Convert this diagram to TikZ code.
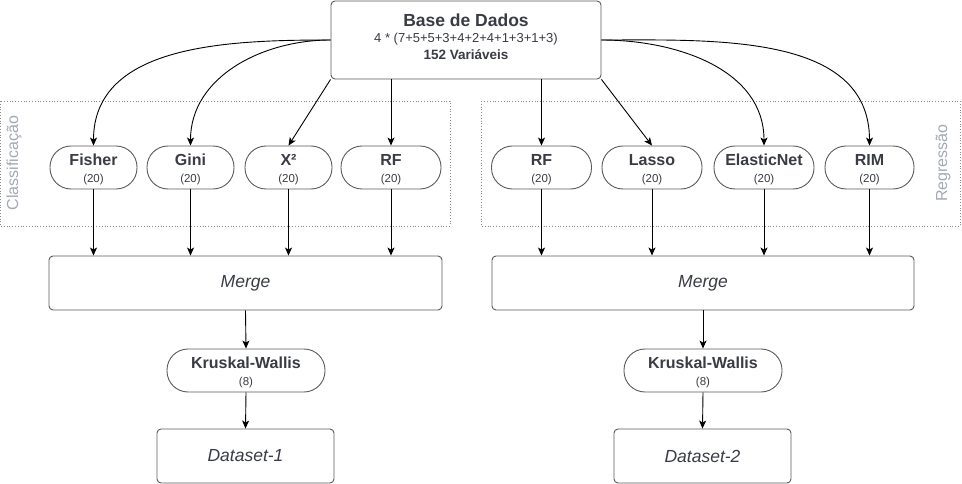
\documentclass[tikz,border=0pt]{standalone}
\usepackage{fontspec}
\setmainfont{Liberation Sans}
\usetikzlibrary{arrows.meta}
\definecolor{txt}{HTML}{393C44}
\definecolor{bord}{HTML}{5A5A5A}
\definecolor{lbl}{HTML}{A3A8B3}
\definecolor{dots}{HTML}{8A8A8A}
\newcommand{\mttl}[1]{{\bfseries\fontsize{16}{18}\selectfont\rule{0pt}{14.5pt}#1}}
\newcommand{\msub}[1]{{\fontsize{11.5}{13}\selectfont #1}}
\begin{document}
\begin{tikzpicture}[x=1pt,y=-1pt,
  box/.style={draw=bord,line width=0.9pt,rounded corners=4pt,fill=white,text=txt,inner sep=0pt,align=center},
  pill/.style={draw=bord,line width=0.9pt,rounded corners=21pt,fill=white,text=txt,inner sep=0pt,align=center,minimum height=43pt},
  grp/.style={draw=dots,line width=0.8pt,dotted},
  grplbl/.style={text=lbl,font=\fontsize{16}{18}\selectfont,rotate=90},
  arr/.style={draw=black,line width=0.9pt,-{Stealth[length=8pt,width=7pt,inset=2pt]}},
  itl/.style={font=\itshape\fontsize{17.5}{20}\selectfont}
]
\useasboundingbox (0,0) rectangle (962,484);

% groups
\draw[grp] (0,101) rectangle (450,226);
\draw[grp] (481,101) rectangle (960,226);
\node[grplbl] (lclass) at (14,163) {Classificação};
\node[grplbl] (lreg) at (943,163) {Regressão};

% base
\node[box,minimum width=270pt,minimum height=78pt] (base) at (466,40) {};
\node[text=txt,font=\bfseries\fontsize{17.5}{20}\selectfont] (bt1) at (466,20) {Base de Dados};
\node[text=txt,font=\fontsize{13}{15}\selectfont] (bt2) at (466,39) {4 * (7+5+5+3+4+2+4+1+3+1+3)};
\node[text=txt,font=\bfseries\fontsize{13.5}{15}\selectfont] (bt3) at (466,55) {152 Variáveis};

% pills (classification)
\node[pill,minimum width=87pt] (fisher) at (93.5,167.5) {\mttl{Fisher}\\[5pt]\msub{(20)}};
\node[pill,minimum width=87pt] (gini) at (190.5,167.5) {\mttl{Gini}\\[5pt]\msub{(20)}};
\node[pill,minimum width=87pt] (xsq) at (288.5,167.5) {\mttl{X²}\\[5pt]\msub{(20)}};
\node[pill,minimum width=100pt] (rfc) at (391,167.5) {\mttl{RF}\\[5pt]\msub{(20)}};
% pills (regression)
\node[pill,minimum width=100pt] (rfr) at (541.5,167.5) {\mttl{RF}\\[5pt]\msub{(20)}};
\node[pill,minimum width=100pt] (lasso) at (652,167.5) {\mttl{Lasso}\\[5pt]\msub{(20)}};
\node[pill,minimum width=100pt] (elastic) at (764,167.5) {\mttl{ElasticNet}\\[5pt]\msub{(20)}};
\node[pill,minimum width=89pt] (rim) at (869.5,167.5) {\mttl{RIM}\\[5pt]\msub{(20)}};

% merge
\node[box,minimum width=393pt,minimum height=54pt,itl] (mergeL) at (245.5,283) {Merge};
\node[box,minimum width=422pt,minimum height=54pt,itl] (mergeR) at (703,283) {Merge};

% kruskal
\node[pill,minimum width=158pt] (kwL) at (246,370.5) {\mttl{Kruskal-Wallis}\\[5pt]\msub{(8)}};
\node[pill,minimum width=158pt] (kwR) at (703,370.5) {\mttl{Kruskal-Wallis}\\[5pt]\msub{(8)}};

% datasets
\node[box,minimum width=177pt,minimum height=54pt,itl] (dsL) at (245.5,456) {Dataset-1};
\node[box,minimum width=177pt,minimum height=54pt,itl] (dsR) at (702.5,456) {Dataset-2};

% top connectors
\draw[arr] (base.west) to[out=180,in=90] (fisher.north);
\draw[arr] (base.west) to[out=180,in=90] (gini.north);
\draw[arr] (base.south west) -- (xsq.north);
\draw[arr] (rfc.north |- base.south) -- (rfc.north);
\draw[arr] (rfr.north |- base.south) -- (rfr.north);
\draw[arr] (base.south east) -- (lasso.north);
\draw[arr] (base.east) to[out=0,in=90] (elastic.north);
\draw[arr] (base.east) to[out=0,in=90] (rim.north);

% pills to merge
\foreach \p in {fisher,gini,xsq,rfc}
  \draw[arr] (\p.south) -- (\p.south |- mergeL.north);
\foreach \p in {rfr,lasso,elastic,rim}
  \draw[arr] (\p.south) -- (\p.south |- mergeR.north);

% merge to kruskal to dataset
\draw[arr] (mergeL.south) -- (kwL.north);
\draw[arr] (mergeR.south) -- (kwR.north);
\draw[arr] (kwL.south) -- (dsL.north);
\draw[arr] (kwR.south) -- (dsR.north);
\end{tikzpicture}
\end{document}
